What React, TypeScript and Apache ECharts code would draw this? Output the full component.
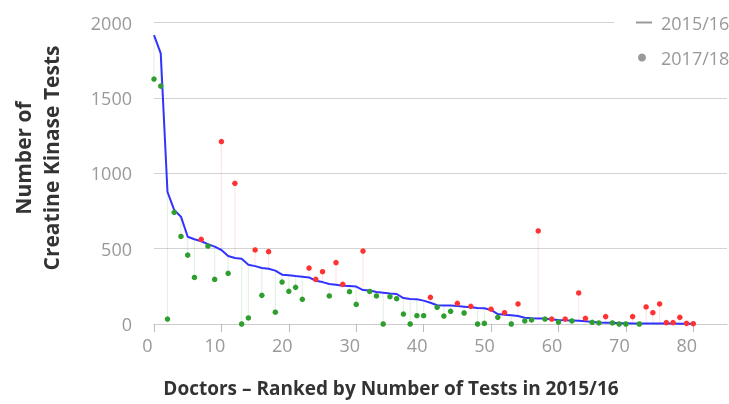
import React, { useEffect, useRef } from "react";
import * as echarts from "echarts";

const ranks: number[] = Array.from({ length: 81 }, (_, i) => i);

const tests2015: number[] = [
  1916, 1795, 877, 756, 712, 579, 562, 549, 530, 513,
  491, 451, 438, 433, 393, 384, 371, 367, 354, 327,
  323, 318, 314, 309, 287, 278, 265, 261, 254, 252,
  248, 225, 222, 212, 208, 203, 199, 172, 166, 164,
  155, 141, 124, 122, 122, 119, 115, 111, 106, 104,
  93, 66, 62, 58, 53, 42, 38, 37, 36, 30,
  27, 25, 24, 22, 18, 14, 10, 9, 9, 5,
  5, 4, 4, 4, 3, 3, 3, 3, 2, 2,
  1,
];

const tests2017: number[] = [
  1625, 1578, 33, 741, 581, 457, 309, 562, 517, 296,
  1210, 336, 933, 0, 40, 491, 190, 480, 78, 278,
  217, 243, 164, 371, 296, 347, 186, 407, 263, 214,
  130, 484, 216, 186, 0, 181, 168, 66, 0, 55,
  55, 177, 111, 53, 84, 137, 73, 117, 0, 4,
  98, 44, 75, 0, 133, 20, 27, 617, 33, 33,
  13, 33, 20, 206, 38, 11, 7, 49, 7, 0,
  0, 49, 0, 113, 75, 133, 9, 9, 44, 4,
  2,
];

const xTicks: number[] = [0, 10, 20, 30, 40, 50, 60, 70, 80];
const seriesNames: string[] = ["2015/16", "2017/18"];

const FONT = "'Open Sans', sans-serif";
const BLUE = "#3333ff";
const RED = "#ff3333";
const GREEN = "#2e9e2e";
const RED_LINK = "rgba(255,60,60,0.13)";
const GREEN_LINK = "rgba(40,160,40,0.13)";

export default function App() {
  const ref = useRef<HTMLDivElement>(null);

  useEffect(() => {
    if (!ref.current) return;
    const chart = echarts.init(ref.current, undefined, { renderer: "svg" });

    const linkData = ranks.map((r, i) => [r, tests2017[i], tests2015[i]]);
    const lineData = ranks.map((r, i) => [r, tests2015[i]]);
    const dotData = ranks.map((r, i) => ({
      value: [r, tests2017[i]],
      itemStyle: {
        color: tests2017[i] > tests2015[i] ? RED : GREEN,
        opacity: 1,
      },
    }));

    chart.setOption({
      animation: false,
      grid: {
        left: 154,
        right: 2,
        top: 22.5,
        bottom: 80,
        containLabel: false,
        outerBoundsMode: "none",
      },
      xAxis: {
        type: "value",
        min: 0,
        max: 85,
        interval: 10,
        axisLine: { show: true, lineStyle: { color: "#cccccc", width: 1 } },
        axisTick: {
          show: true,
          length: 8,
          lineStyle: { color: "#bbbbbb" },
          customValues: xTicks,
        },
        axisLabel: {
          color: "#999999",
          fontFamily: FONT,
          fontSize: 18,
          margin: 12,
          padding: [0, 13, 0, 0],
          customValues: xTicks,
          formatter: (v: number) => String(v),
        },
        splitLine: { show: false },
      },
      yAxis: {
        type: "value",
        min: 0,
        max: 2000,
        interval: 500,
        axisLine: { show: false },
        axisTick: { show: false },
        axisLabel: {
          color: "#999999",
          fontFamily: FONT,
          fontSize: 18,
          margin: 22,
          formatter: (v: number) => String(v),
        },
        splitLine: { show: true, lineStyle: { color: "#d3d3d3", width: 1 } },
      },
      series: [
        {
          type: "custom",
          name: "links",
          z: 1,
          silent: true,
          data: linkData,
          renderItem: (_params: any, api: any) => {
            const x = api.value(0);
            const a = api.coord([x, api.value(1)]);
            const b = api.coord([x, api.value(2)]);
            const up = api.value(1) > api.value(2);
            return {
              type: "line",
              shape: { x1: a[0], y1: a[1], x2: b[0], y2: b[1] },
              style: { stroke: up ? RED_LINK : GREEN_LINK, lineWidth: 1.2 },
            };
          },
        },
        {
          type: "line",
          name: seriesNames[0],
          z: 2,
          data: lineData,
          showSymbol: false,
          symbol: "none",
          lineStyle: { color: BLUE, width: 2 },
        },
        {
          type: "scatter",
          name: seriesNames[1],
          z: 3,
          symbolSize: 5.5,
          itemStyle: { opacity: 1 },
          data: dotData,
        },
      ],
      graphic: [
        {
          type: "rect",
          z: 100,
          shape: { x: 614, y: 8, width: 115, height: 30 },
          style: { fill: "#ffffff" },
        },
        {
          type: "line",
          z: 101,
          shape: { x1: 636, y1: 22.5, x2: 652, y2: 22.5 },
          style: { stroke: "#999999", lineWidth: 2 },
        },
        {
          type: "text",
          z: 101,
          x: 661,
          y: 23,
          style: {
            text: seriesNames[0],
            font: `18px ${FONT}`,
            fill: "#999999",
            textAlign: "left",
            textVerticalAlign: "middle",
          },
        },
        {
          type: "circle",
          z: 101,
          shape: { cx: 642, cy: 57.5, r: 4 },
          style: { fill: "#999999" },
        },
        {
          type: "text",
          z: 101,
          x: 661,
          y: 57.5,
          style: {
            text: seriesNames[1],
            font: `18px ${FONT}`,
            fill: "#999999",
            textAlign: "left",
            textVerticalAlign: "middle",
          },
        },
        {
          type: "text",
          z: 101,
          x: 37,
          y: 158,
          rotation: Math.PI / 2,
          style: {
            text: "Number of\nCreatine Kinase Tests",
            font: `bold 21px ${FONT}`,
            lineHeight: 28,
            fill: "#333333",
            textAlign: "center",
            textVerticalAlign: "middle",
          },
        },
        {
          type: "text",
          z: 101,
          x: 391,
          y: 388,
          style: {
            text: "Doctors – Ranked by Number of Tests in 2015/16",
            font: `bold 19px ${FONT}`,
            fill: "#333333",
            textAlign: "center",
            textVerticalAlign: "middle",
          },
        },
      ],
    });

    return () => chart.dispose();
  }, []);

  return (
    <div
      ref={ref}
      style={{ position: "fixed", left: 0, top: 0, width: 729, height: 404 }}
    />
  );
}
